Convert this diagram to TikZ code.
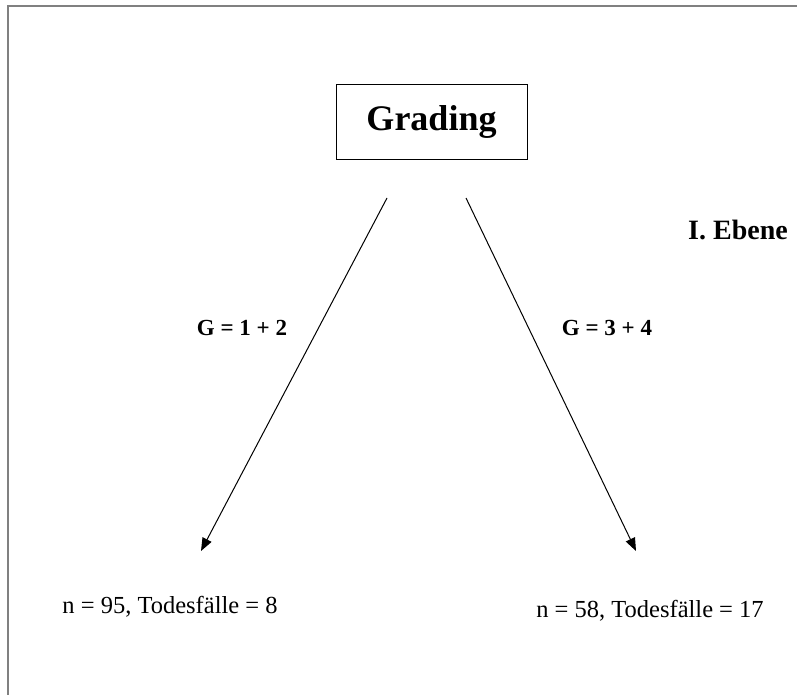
\documentclass[tikz,border=0pt]{standalone}
\usepackage{fontspec}
\setmainfont{Liberation Serif}
\usetikzlibrary{positioning,arrows.meta}
\definecolor{F1}{RGB}{128,128,128}

\begin{document}
\begin{tikzpicture}[x=1pt, y=-1pt,
  head/.style={draw, line width=0.8pt, font=\fontsize{36}{40}\selectfont\bfseries,
               minimum width=191pt, minimum height=75pt, inner sep=0pt},
  cut/.style={font=\fontsize{23}{26}\selectfont\bfseries},
  res/.style={font=\fontsize{24.5}{28}\selectfont},
  arr/.style={-{Triangle[length=13pt, width=10pt]}, line width=1pt},
]
\useasboundingbox (0,0) rectangle (797,695);
\draw[F1, line width=1.5pt] (8,695) -- (8,6) -- (797,6);

\node[head] (grad) at (431.5,121.5) {Grading};
\node[font=\fontsize{28}{32}\selectfont\bfseries] (lvl) at (738,230) {I. Ebene};

\coordinate (gl) at (387,198);
\coordinate (tl) at (201,551);
\coordinate (gr) at (466,198);
\coordinate (tr) at (636,551);

\node[cut] (cl) at (242,328) {G = 1 + 2};
\node[cut] (cr) at (607,328) {G = 3 + 4};
\node[res] (nl) at (170,607) {n = 95, Todesfälle = 8};
\node[res] (nr) at (650,611) {n = 58, Todesfälle = 17};

\draw[arr] (gl) -- (tl);
\draw[arr] (gr) -- (tr);
\end{tikzpicture}
\end{document}
